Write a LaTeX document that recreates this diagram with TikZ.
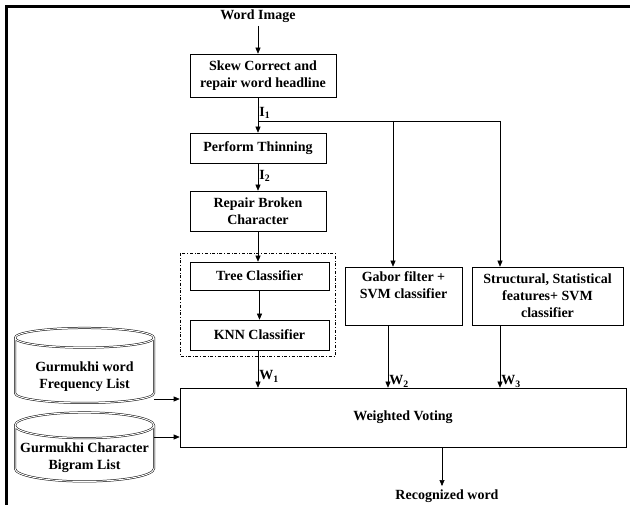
\documentclass[tikz,border=0pt]{standalone}
\usepackage{fontspec}
\setmainfont{Liberation Serif}
\usetikzlibrary{arrows.meta,shapes.geometric}
\begin{document}
\begin{tikzpicture}[x=1pt,y=-1pt,font=\fontsize{14}{17}\selectfont\bfseries,
  box/.style={draw,line width=.6pt,inner sep=0pt,align=center},
  arr/.style={-{Triangle[length=6pt,width=5pt]},line width=.6pt},
  db/.style={draw,shape=cylinder,shape border rotate=90,aspect=.2,double,double distance=1pt,line width=.5pt,align=center,inner sep=0pt},
  lbl/.style={inner sep=1pt}]
\useasboundingbox (0,0) rectangle (630,505);
\draw[line width=3pt] (630,6.5) -- (6.5,6.5) -- (6.5,505);
\node (word) at (258,16) {Word Image};
\node[box,minimum width=146pt,minimum height=43pt] (skew) at (263,75.5) {Skew Correct and\\repair word headline};
\node[box,minimum width=136pt,minimum height=30pt] (thin) at (258,148) {Perform Thinning};
\node[box,minimum width=136pt,minimum height=40pt] (repair) at (258,211) {Repair Broken\\Character};
\draw[dash dot,line width=.4pt] (180,253) rectangle (335,356);
\node[box,minimum width=139pt,minimum height=28pt] (tree) at (259.5,276) {Tree Classifier};
\node[box,minimum width=139pt,minimum height=30pt] (knn) at (259.5,335) {KNN Classifier};
\node[box,minimum width=117pt,minimum height=58pt] (gabor) at (403.5,296) {};
\node[anchor=north,align=center,inner sep=0pt] (gabortxt) at (403.5,271) {Gabor filter +\\SVM classifier};
\node[box,minimum width=151pt,minimum height=58pt] (struct) at (547.5,296) {Structural, Statistical\\features+ SVM\\classifier};
\node[box,minimum width=446pt,minimum height=59pt] (vote) at (403,417.5) {Weighted Voting};
\node[db,minimum width=139pt,minimum height=75pt] (freq) at (84.5,370.5) {\phantom{Gurmukhi word}\\\phantom{Frequency List}};
\node[align=center,inner sep=0pt] (freqtxt) at (84.5,377) {Gurmukhi word\\Frequency List};
\node[db,minimum width=139pt,minimum height=69pt] (bigram) at (84.5,453.5) {\phantom{Gurmukhi Character}\\\phantom{Bigram List}};
\node[align=center,inner sep=0pt] (bigramtxt) at (84.5,457.5) {Gurmukhi Character\\Bigram List};
\node (rec) at (447,496) {Recognized word};
\coordinate (b1) at (258,121);
\coordinate (b2) at (393,121);
\coordinate (b3) at (500,121);
\coordinate (g) at (388,0);
\coordinate (r) at (442,0);
\coordinate (f1) at (0,399);
\coordinate (f2) at (0,437);
\draw[arr] (word) -- (word |- skew.north);
\draw[arr] (skew.south -| thin.north) -- (thin.north) node[lbl,pos=.45,right] {I\textsubscript{1}};
\draw[line width=.6pt] (b1) -- (b3);
\draw[arr] (b2) -- (b2 |- gabor.north);
\draw[arr] (b3) -- (b3 |- struct.north);
\draw[arr] (thin) -- (repair) node[lbl,pos=.45,right] {I\textsubscript{2}};
\draw[arr] (repair.south) -- (repair.south |- tree.north);
\draw[arr] (tree) -- (knn);
\draw[arr] (knn.south -| thin) -- (vote.north -| thin) node[lbl,pos=.7,right] {W\textsubscript{1}};
\draw[arr] (g |- gabor.south) -- (g |- vote.north) node[lbl,pos=.9,right] {W\textsubscript{2}};
\draw[arr] (b3 |- struct.south) -- (b3 |- vote.north) node[lbl,pos=.9,right] {W\textsubscript{3}};
\draw[arr] (f1 -| freq.east) -- (f1 -| vote.west);
\draw[arr] (f2 -| bigram.east) -- (f2 -| vote.west);
\draw[arr] (vote.south -| r) -- (rec.north -| r);
\end{tikzpicture}
\end{document}
